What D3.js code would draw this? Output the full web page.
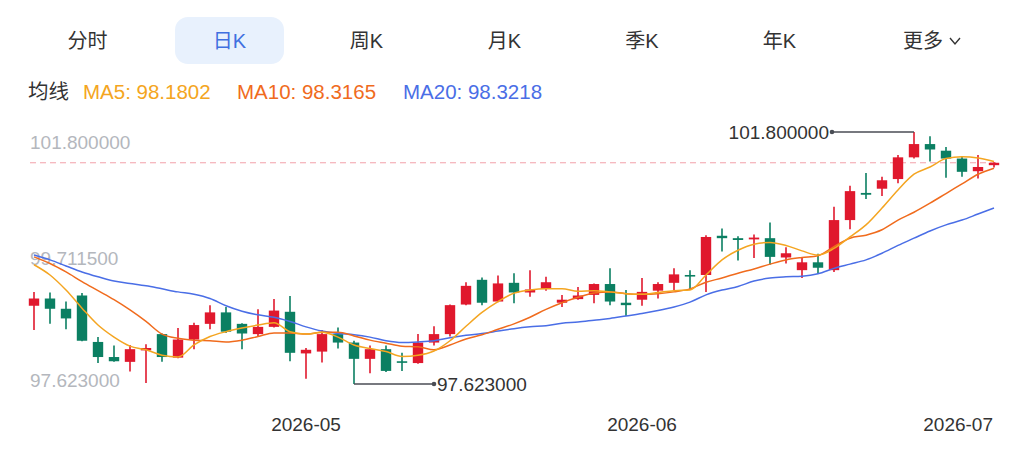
<!DOCTYPE html>
<html><head><meta charset="utf-8">
<script src="https://cdn.jsdelivr.net/npm/d3@7/dist/d3.min.js"></script>
<style>
html,body{margin:0;padding:0;background:#fff;}
svg{display:block;font-family:"Liberation Sans",Arial,"Noto Sans CJK SC",sans-serif;}
</style></head><body>
<svg id="c" width="1029" height="453"></svg>
<script>
const tabs = ["分时","日K","周K","月K","季K","年K","更多"];
const tabX = [87.5, 229.5, 366.5, 504.5, 642, 779.5, 923];
const legendLabels = ["MA5: 98.1802","MA10: 98.3165","MA20: 98.3218"];
const dates = [
"2026-04-08","2026-04-09","2026-04-10","2026-04-13","2026-04-14","2026-04-15","2026-04-16","2026-04-17","2026-04-20","2026-04-21","2026-04-22","2026-04-23","2026-04-24","2026-04-27","2026-04-28","2026-04-29","2026-04-30",
"2026-05-01","2026-05-04","2026-05-05","2026-05-06","2026-05-07","2026-05-08","2026-05-11","2026-05-12","2026-05-13","2026-05-14","2026-05-15","2026-05-18","2026-05-19","2026-05-20","2026-05-21","2026-05-22","2026-05-25","2026-05-26","2026-05-27","2026-05-28","2026-05-29",
"2026-06-01","2026-06-02","2026-06-03","2026-06-04","2026-06-05","2026-06-08","2026-06-09","2026-06-10","2026-06-11","2026-06-12","2026-06-15","2026-06-16","2026-06-17","2026-06-18","2026-06-19","2026-06-22","2026-06-23","2026-06-24","2026-06-25","2026-06-26","2026-06-29","2026-06-30",
"2026-07-01"];
const opens  = [98.92,99.04,98.87,99.09,98.32,98.07,97.99,98.18,98.45,98.06,98.36,98.62,98.81,98.62,98.45,98.57,98.82,98.13,98.16,98.45,98.31,98.04,98.20,98.00,97.97,98.31,98.45,98.94,99.35,98.99,99.30,99.14,99.20,98.97,99.03,99.10,99.28,98.97,99.02,99.17,99.30,99.43,99.43,100.08,100.04,100.02,100.04,99.72,99.51,99.64,99.51,100.34,100.79,100.86,101.02,101.38,101.60,101.49,101.36,101.15,101.25];
const highs  = [99.15,99.14,98.99,99.13,98.40,98.26,98.27,98.28,98.46,98.55,98.64,98.93,98.90,98.63,98.86,99.03,99.08,98.22,98.52,98.56,98.34,98.26,98.26,98.14,98.45,98.58,98.94,99.31,99.39,99.42,99.46,99.51,99.40,99.10,99.23,99.29,99.54,99.18,99.38,99.31,99.54,99.51,100.09,100.20,100.07,100.10,100.30,99.89,99.71,99.78,100.56,100.91,101.12,101.06,101.42,101.80,101.73,101.55,101.39,101.42,101.30];
const lows   = [98.52,98.62,98.53,98.33,97.97,97.99,97.83,97.64,97.99,98.05,98.20,98.53,98.47,98.20,98.42,98.56,98.00,97.71,97.98,98.21,97.623,97.80,97.82,97.84,97.96,98.26,98.41,98.93,98.93,98.98,98.96,99.07,99.17,98.90,99.02,98.96,98.93,98.75,98.92,99.04,99.18,99.18,99.15,99.82,99.67,99.71,99.60,99.62,99.38,99.45,99.48,100.19,100.69,100.74,100.95,101.36,101.31,101.04,101.06,101.03,101.21];
const closes = [99.04,98.87,98.71,98.34,98.07,98.00,98.20,98.22,98.07,98.36,98.60,98.81,98.49,98.46,98.57,98.84,98.14,98.19,98.45,98.31,98.04,98.20,97.84,97.99,98.31,98.45,98.93,99.25,98.97,99.29,99.14,99.19,99.31,99.02,99.09,99.28,98.99,98.93,99.15,99.28,99.44,99.41,100.06,100.04,100.01,100.05,99.73,99.79,99.64,99.55,100.34,100.82,100.76,101.00,101.38,101.60,101.51,101.36,101.14,101.22,101.29];
const ma5  = [99.60,99.43,99.18,98.88,98.60,98.40,98.25,98.19,98.10,98.07,98.27,98.41,98.49,98.55,98.60,98.64,98.49,98.45,98.48,98.40,98.27,98.21,98.16,98.08,98.10,98.17,98.34,98.58,98.81,98.99,99.13,99.18,99.20,99.20,99.16,99.17,99.15,99.12,99.11,99.14,99.17,99.18,99.43,99.68,99.84,99.94,99.97,99.92,99.83,99.76,99.87,100.06,100.26,100.54,100.84,101.10,101.22,101.36,101.39,101.37,101.31];
const ma10 = [99.73,99.62,99.48,99.32,99.17,99.02,98.85,98.66,98.45,98.38,98.35,98.34,98.32,98.35,98.41,98.47,98.47,98.45,98.48,98.48,98.42,98.35,98.30,98.25,98.24,98.19,98.27,98.37,98.44,98.53,98.62,98.73,98.86,98.97,99.06,99.13,99.15,99.12,99.11,99.12,99.15,99.20,99.31,99.38,99.46,99.53,99.61,99.68,99.72,99.75,99.90,100.04,100.09,100.18,100.34,100.47,100.62,100.78,100.94,101.10,101.20];
const ma20 = [99.76,99.68,99.58,99.48,99.40,99.33,99.29,99.25,99.20,99.15,99.11,99.04,98.92,98.83,98.77,98.73,98.66,98.57,98.50,98.46,98.44,98.40,98.34,98.31,98.32,98.34,98.39,98.43,98.46,98.50,98.54,98.57,98.59,98.63,98.65,98.68,98.71,98.75,98.79,98.84,98.90,98.98,99.10,99.18,99.24,99.33,99.38,99.40,99.41,99.45,99.54,99.61,99.68,99.79,99.92,100.04,100.16,100.26,100.34,100.44,100.54];
const yTickValues = [101.8, 99.7115, 97.623];
const xTickDates = ["2026-05-01","2026-06-01","2026-07-01"];
const xTickLabels = ["2026-05","2026-06","2026-07"];

const RED = "#e0182d", GREEN = "#0b7f62";
const C5 = "#f4a521", C10 = "#f06b1d", C20 = "#4a6ee6";

const svg = d3.select("#c");

// tabs
svg.append("rect").attr("x",175).attr("y",17).attr("width",109).attr("height",47).attr("rx",13).attr("fill","#e8f1fd");
svg.selectAll("text.tab").data(tabs).join("text").attr("class","tab")
  .attr("x",(d,i)=>tabX[i]).attr("y",41).attr("dy","0.35em")
  .attr("text-anchor","middle").attr("font-size",20)
  .attr("fill",(d,i)=>i===1?"#3f6fe0":"#333")
  .text(d=>d);
svg.append("path").attr("d","M950,38 L955,44 L960,38").attr("fill","none").attr("stroke","#333").attr("stroke-width",1.4);

// legend
const lg = svg.append("text").attr("x",28).attr("y",92).attr("dy","0.35em").attr("font-size",20.5);
lg.append("tspan").attr("fill","#333").text("均线");
const legCols=[C5,C10,C20], legX=[83,237,403];
legendLabels.forEach((t,i)=>{ lg.append("tspan").attr("x",legX[i]).attr("fill",legCols[i]).text(t); });

// scales
const x = d3.scaleBand().domain(dates).range([26,1002]).paddingInner(0.35).paddingOuter(0.175);
const y = d3.scaleLinear().domain([97.623,101.8]).range([384,132]);
const cx = d => x(d)+x.bandwidth()/2;

// y labels
const ylab = svg.append("g");
yTickValues.forEach((v,i)=>{
  ylab.append("text").attr("x",30).attr("y",y(v))
    .attr("dy", i===0?"0.9em":(i===1?"0.35em":"0.14em"))
    .attr("font-size",19).attr("fill","#b4b7bd").text(v.toFixed(6));
});

// last price dashed line
svg.append("line").attr("x1",30).attr("x2",1000)
  .attr("y1",y(closes[closes.length-1])).attr("y2",y(closes[closes.length-1]))
  .attr("stroke","#f2a0a9").attr("stroke-width",1).attr("stroke-dasharray","6,4");

// candles
const idx = d3.range(dates.length);
const g = svg.append("g");
g.selectAll("line.wick").data(idx).join("line")
  .attr("x1",i=>cx(dates[i])).attr("x2",i=>cx(dates[i]))
  .attr("y1",i=>y(highs[i])).attr("y2",i=>y(lows[i]))
  .attr("stroke",i=>closes[i]>=opens[i]?RED:GREEN).attr("stroke-width",1.6);
g.selectAll("rect.body").data(idx).join("rect")
  .attr("x",i=>x(dates[i])).attr("width",x.bandwidth())
  .attr("y",i=>y(Math.max(opens[i],closes[i])))
  .attr("height",i=>Math.max(1.6,Math.abs(y(opens[i])-y(closes[i]))))
  .attr("fill",i=>closes[i]>=opens[i]?RED:GREEN);

// MA lines
const line = arr => d3.line().x((d,i)=>cx(dates[i])).y(d=>y(d)).curve(d3.curveMonotoneX)(arr);
[[ma20,C20],[ma10,C10],[ma5,C5]].forEach(([a,c])=>{
  svg.append("path").attr("d",line(a)).attr("fill","none").attr("stroke",c).attr("stroke-width",1.5);
});

// max/min annotations
const iMax = d3.maxIndex(highs), iMin = d3.minIndex(lows);
const ann = svg.append("g").attr("stroke","#4a4d55").attr("fill","#4a4d55");
const maxX = cx(dates[iMax]), maxY = y(highs[iMax]);
ann.append("line").attr("x1",maxX).attr("x2",832).attr("y1",maxY).attr("y2",maxY).attr("stroke-width",1.3);
ann.append("circle").attr("cx",832).attr("cy",maxY).attr("r",2.3).attr("stroke","none");
svg.append("text").attr("x",829).attr("y",maxY).attr("dy","0.35em").attr("text-anchor","end")
  .attr("font-size",19).attr("fill","#333").text(highs[iMax].toFixed(6));
const minX = cx(dates[iMin]), minY = y(lows[iMin]);
ann.append("line").attr("x1",minX).attr("x2",434).attr("y1",minY).attr("y2",minY).attr("stroke-width",1.3);
ann.append("circle").attr("cx",434).attr("cy",minY).attr("r",2.3).attr("stroke","none");
svg.append("text").attr("x",437).attr("y",minY).attr("dy","0.35em")
  .attr("font-size",19).attr("fill","#333").text(lows[iMin].toFixed(6));

// x labels
xTickDates.forEach((d,i)=>{
  const t = svg.append("text").attr("y",424).attr("dy","0.35em").attr("text-anchor","middle")
    .attr("font-size",19).attr("fill","#333").text(xTickLabels[i]);
  const w = t.node().getComputedTextLength();
  let px = cx(d);
  if (px + w/2 > 993) px = 993 - w/2;
  t.attr("x",px);
});
</script>
</body></html>
